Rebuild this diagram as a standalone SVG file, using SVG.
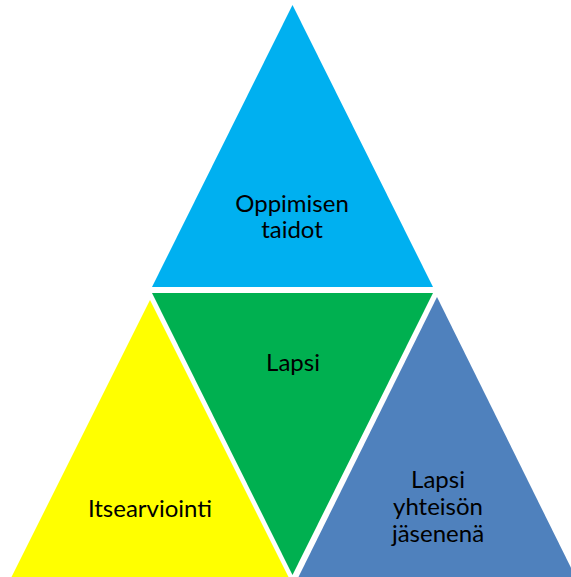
<svg xmlns="http://www.w3.org/2000/svg" width="571" height="577" viewBox="0 0 571 577">
<style>
text{font-family:Lato,"Liberation Sans",sans-serif;font-size:24px;fill:#000;text-anchor:middle}
</style>
<rect width="571" height="577" fill="#fff"/>
<g id="oppimisen">
<polygon points="292.5,5 152,287 433,287" fill="#00B0F0"/>
<text x="292" y="211.5">Oppimisen</text>
<text x="292" y="238">taidot</text>
</g>
<g id="lapsi">
<polygon points="152,293 433,293 292.5,575" fill="#00B050"/>
<text x="293" y="371">Lapsi</text>
</g>
<g id="itsearviointi">
<polygon points="150,300 10,580 290,580" fill="#FFFF00"/>
<text x="150" y="516.5">Itsearviointi</text>
</g>
<g id="yhteiso">
<polygon points="437,297 297,580 577,580" fill="#4F81BD"/>
<text x="438" y="487.5">Lapsi</text>
<text x="438" y="515">yhteisön</text>
<text x="438" y="541.5">jäsenenä</text>
</g>
<g id="connectors"/>
</svg>
